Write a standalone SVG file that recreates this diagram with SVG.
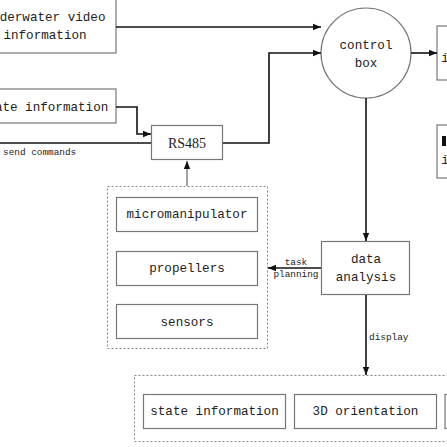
<svg xmlns="http://www.w3.org/2000/svg" width="447" height="447" viewBox="0 0 447 447">
<defs>
<marker id="ah" viewBox="0 0 10 10" refX="10" refY="5" markerWidth="8" markerHeight="8" markerUnits="userSpaceOnUse" orient="auto">
<path d="M0,1 L10,5 L0,9 z" fill="#111"/>
</marker>
<style>
.box{fill:#fff;stroke:#777;stroke-width:1.2}
.dash{fill:none;stroke:#888;stroke-width:1;stroke-dasharray:2 2}
.t{font-family:"Liberation Mono",monospace;font-size:12.6px;fill:#222;text-anchor:middle}
.s{font-family:"Liberation Mono",monospace;font-size:9.4px;fill:#222}
.r{font-family:"Liberation Serif",serif;font-size:14px;fill:#222;text-anchor:middle}
.c{fill:none;stroke:#111;stroke-width:1.6}
</style>
</defs>
<rect width="447" height="447" fill="#fff"/>
<g id="containers">
<rect class="dash" x="107.5" y="186.5" width="160" height="162"/>
<rect class="dash" x="134.5" y="375.5" width="330" height="66"/>
</g>
<g id="underwater-video">
<rect class="box" x="-26" y="-5" width="142" height="58"/>
<text class="t" x="45" y="21">underwater video</text>
<text class="t" x="45" y="39">information</text>
</g>
<g id="state-info-top">
<rect class="box" x="-26" y="89" width="142" height="34"/>
<text class="t" x="44" y="111">state information</text>
</g>
<g id="rs485">
<rect class="box" x="151.5" y="125.5" width="71" height="34"/>
<text class="r" x="187" y="148">RS485</text>
</g>
<g id="control-box">
<circle cx="366" cy="53" r="45" fill="#fff" stroke="#777" stroke-width="1.2"/>
<text class="t" x="366" y="49">control</text>
<text class="t" x="366" y="67">box</text>
</g>
<g id="right-box-1">
<rect class="box" x="437" y="26" width="30" height="54"/>
<text class="t" x="445" y="62">i</text>
</g>
<g id="right-box-2">
<rect class="box" x="437" y="125" width="30" height="53"/>
<rect x="442" y="136" width="4" height="10" fill="#111"/>
<text class="t" x="445" y="164">i</text>
</g>
<g id="micromanipulator">
<rect class="box" x="116.5" y="197.5" width="141" height="34"/>
<text class="t" x="187" y="218">micromanipulator</text>
</g>
<g id="propellers">
<rect class="box" x="116.5" y="251.5" width="141" height="34"/>
<text class="t" x="187" y="272">propellers</text>
</g>
<g id="sensors">
<rect class="box" x="116.5" y="304.5" width="141" height="34"/>
<text class="t" x="187" y="326">sensors</text>
</g>
<g id="data-analysis">
<rect class="box" x="321.5" y="241.5" width="88" height="53"/>
<text class="t" x="366" y="263">data</text>
<text class="t" x="366" y="281">analysis</text>
</g>
<g id="state-info-bottom">
<rect class="box" x="143.5" y="394.5" width="142" height="34"/>
<text class="t" x="214.5" y="415">state information</text>
</g>
<g id="orientation">
<rect class="box" x="294.5" y="394.5" width="142" height="34"/>
<text class="t" x="365.5" y="415">3D orientation</text>
</g>
<g id="bottom-right">
<rect class="box" x="445" y="394.5" width="20" height="34"/>
</g>
<g id="connectors">
<path class="c" d="M116,27 H321" marker-end="url(#ah)"/>
<path class="c" d="M223,143 H269 V53 H321" marker-end="url(#ah)"/>
<path class="c" d="M116,107 H137 V134 H151" marker-end="url(#ah)"/>
<path class="c" d="M0,143 H151"/>
<path d="M187,186 V161" fill="none" stroke="#444" stroke-width="1" marker-end="url(#ah)"/>
<path class="c" d="M411,53 H437" marker-end="url(#ah)"/>
<path class="c" d="M366,98 V241" marker-end="url(#ah)"/>
<path class="c" d="M321,268 H268" marker-end="url(#ah)"/>
<path class="c" d="M366,295 V375" marker-end="url(#ah)"/>
</g>
<g id="labels">
<text class="s" x="3" y="155">send commands</text>
<text class="s" x="296" y="265" text-anchor="middle">task</text>
<text class="s" x="296" y="277" text-anchor="middle">planning</text>
<text class="s" x="369" y="340">display</text>
</g>
</svg>
